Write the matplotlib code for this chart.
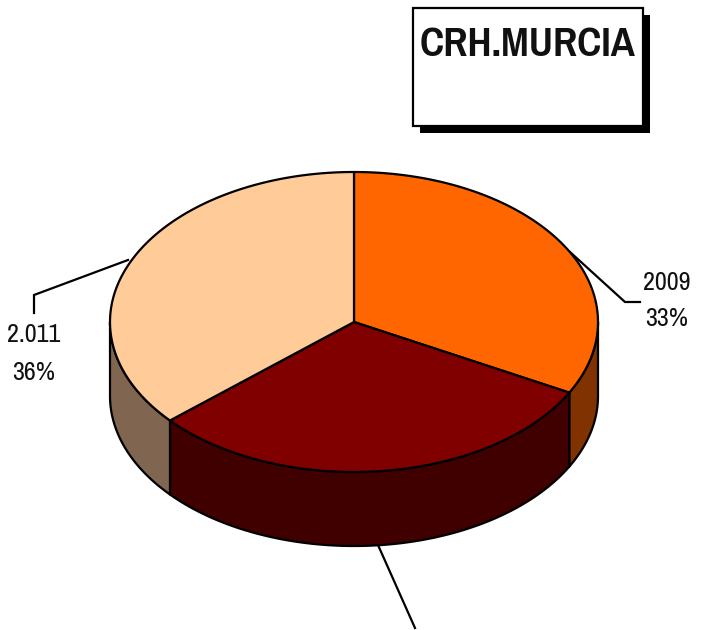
import numpy as np
import matplotlib
matplotlib.use("Agg")
import matplotlib.pyplot as plt
from matplotlib.patches import Polygon, Rectangle

labels = ["2009", "2.010", "2.011"]
shares = [32.8, 30.8, 36.4]
top_colors = ["#FF6600", "#800000", "#FFCC99"]
side_colors = ["#803300", "#400000", "#806650"]
shown_text = {"2009": ("2009", "33%"), "2.011": ("2.011", "36%")}

CX, CY, RX, RY, DEPTH = 354, 322, 244, 150, 74

plt.rcParams["font.family"] = ["Pragati Narrow", "Archivo Narrow", "Liberation Sans", "DejaVu Sans"]

fig = plt.figure(figsize=(7.01, 6.30), dpi=100)
ax = fig.add_axes([0, 0, 1, 1])
ax.set_xlim(0, 701)
ax.set_ylim(630, 0)
ax.axis("off")


def rim(a0, a1, drop=0.0):
    # angles in degrees, clockwise from twelve o'clock
    t = np.radians(np.linspace(a0, a1, 200))
    return np.column_stack([CX + RX * np.sin(t), CY - RY * np.cos(t) + drop])


edges = np.concatenate([[0], np.cumsum(shares)]) / sum(shares) * 360

# side walls, only the part of each slice facing the viewer
for i in range(len(shares)):
    a0, a1 = max(edges[i], 90), min(edges[i + 1], 270)
    if a1 <= a0:
        continue
    wall = np.vstack([rim(a0, a1), rim(a0, a1, DEPTH)[::-1]])
    ax.add_patch(Polygon(wall, closed=True, fc=side_colors[i], ec="black", lw=1.6, joinstyle="round", zorder=2))

# top faces
for i in range(len(shares)):
    face = np.vstack([[CX, CY], rim(edges[i], edges[i + 1])])
    ax.add_patch(Polygon(face, closed=True, fc=top_colors[i], ec="black", lw=1.6, joinstyle="round", zorder=3))

# leader lines
line_kw = dict(color="black", lw=1.6, solid_joinstyle="miter", zorder=1)
ax.plot([128, 34, 34], [260, 295, 313], **line_kw)
ax.plot([570, 625, 640], [252, 302, 302], **line_kw)
ax.plot([378, 415], [545, 628], **line_kw)

label_kw = dict(ha="center", va="center", fontsize=20.5, color="#111111")
ax.text(667, 282, shown_text["2009"][0], **label_kw)
ax.text(667, 319, shown_text["2009"][1], **label_kw)
ax.text(34, 335, shown_text["2.011"][0], **label_kw)
ax.text(34, 372, shown_text["2.011"][1], **label_kw)

# title box with hard shadow
ax.add_patch(Rectangle((420, 15), 230, 118, fc="black", ec="none", zorder=4))
ax.add_patch(Rectangle((413, 8), 230, 118, fc="white", ec="black", lw=1.6, zorder=5))
ax.text(528, 45, "CRH.MURCIA", ha="center", va="center", fontsize=32, fontweight="bold", color="#111111", zorder=6)

fig.savefig("out.png", dpi=100)
